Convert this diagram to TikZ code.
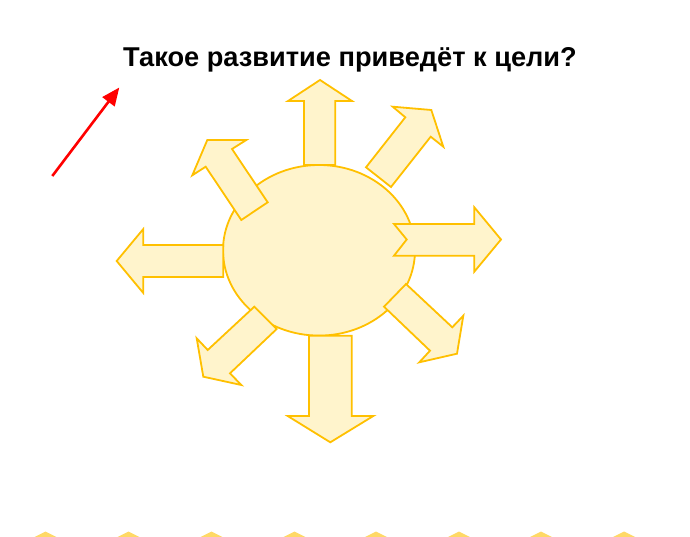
\documentclass[tikz,border=0pt]{standalone}
\usepackage{fontspec}
\setmainfont{Liberation Sans}
\usetikzlibrary{arrows.meta}
\definecolor{sunfill}{HTML}{FFF4CC}
\definecolor{sunline}{HTML}{FFC000}
\definecolor{trifill}{HTML}{FFD966}
\tikzset{
  ray/.style={draw=sunline, fill=sunfill, line width=1.8pt, line join=miter},
  tri/.style={fill=trifill, draw=none},
  title/.style={font=\fontsize{27.2}{31}\selectfont\bfseries, anchor=base, inner sep=0pt},
  pointer/.style={draw=red, line width=2.6pt, -{Triangle[length=18pt,width=15pt]}}
}
\begin{document}
\begin{tikzpicture}[x=1pt,y=-1pt]
\useasboundingbox (0,0) rectangle (690,537);
\fill[white] (0,0) rectangle (690,537);
% sun body
\draw[ray] (319,250.3) ellipse [x radius=96pt, y radius=85.3pt];
% rays
\draw[ray] (304,165) -- (304,101) -- (288,101) -- (320,80) -- (352,101) -- (335.3,101) -- (335.3,165) -- cycle;
\draw[ray] (366,167.3) -- (405.3,117.3) -- (392.7,106.7) -- (431.3,110) -- (443.3,146.7) -- (430.7,136.7) -- (391,187) -- cycle;
\draw[ray] (241.3,220) -- (205.7,166.7) -- (192.3,175.3) -- (207.3,140) -- (246.3,140) -- (232,149) -- (267.7,202.3) -- cycle;
\draw[ray] (223.3,245) -- (143.3,245) -- (143.3,229) -- (116.7,261) -- (143.3,293) -- (143.3,277) -- (223.3,277) -- cycle;
\draw[ray] (394,224) -- (474.3,224) -- (474.3,207.3) -- (501,239.5) -- (474.3,271.7) -- (474.3,255.7) -- (394,255.7) -- (406.7,239.5) -- cycle;
\draw[ray] (406,284) -- (452.3,327.3) -- (463.3,315.7) -- (457,353.7) -- (419.3,362.3) -- (430,350.7) -- (384,306.7) -- cycle;
\draw[ray] (309,335.7) -- (309,416) -- (287.7,416) -- (330.3,442.3) -- (373.3,416) -- (351.7,416) -- (351.7,335.7) -- cycle;
\draw[ray] (254.3,306.7) -- (207.7,350) -- (196.7,338.3) -- (203.3,376.7) -- (241.3,385) -- (230,373.3) -- (276.7,329) -- cycle;
% title
\node[title] (title) at (350,66.5) {Такое развитие приведёт к цели?};
% red pointer
\coordinate (ptrstart) at (52.3,176);
\coordinate (ptrend) at (119.3,87.5);
\draw[pointer] (ptrstart) -- (ptrend);
% bottom triangles
\begin{scope}
\clip (0,0) rectangle (690,537);
\foreach \cx in {45.5,128.5,211.5,294.5,376,459,541,624}{
  \fill[tri] (\cx,531.5) -- (\cx+14,538.5) -- (\cx-14,538.5) -- cycle;
}
\end{scope}
\end{tikzpicture}
\end{document}
